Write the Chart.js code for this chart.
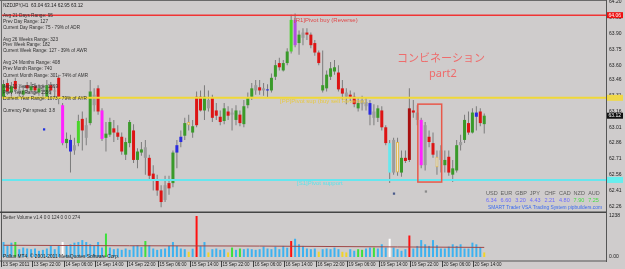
<!DOCTYPE html>
<html>
<head>
<meta charset="utf-8">
<script src="https://cdn.jsdelivr.net/npm/chart.js@4.4.1/dist/chart.umd.min.js"></script>
<style>
body{margin:0;background:#cfcccc;width:625px;height:269px;overflow:hidden;position:relative}
canvas{position:absolute;left:0}
#price{top:0}
#volume{top:213px}
</style>
</head>
<body>
<canvas id="price" width="625" height="213"></canvas>
<canvas id="volume" width="625" height="56"></canvas>
<script>
// NZDJPY H1 candles
var opens=[63.30,63.43,63.34,63.45,63.37,63.32,63.41,63.36,63.40,63.34,
 63.38,63.30,63.41,63.36,63.48,63.22,62.86,62.89,62.84,62.86,
 63.09,63.03,63.05,63.32,63.38,63.17,62.91,62.94,63.00,62.96,
 62.92,62.75,62.86,62.98,62.70,62.77,62.82,62.72,62.57,62.51,
 62.41,62.32,62.48,62.48,62.84,62.87,62.93,63.03,62.96,63.03,
 63.30,63.17,63.27,63.29,63.17,63.11,63.07,63.16,63.13,63.08,
 63.13,63.04,63.22,63.30,63.36,63.39,63.36,63.36,63.36,63.49,
 63.62,63.55,63.62,63.73,64.03,63.81,63.86,63.91,63.89,63.81,
 63.72,63.36,63.38,63.49,63.54,63.53,63.38,63.34,63.32,63.30,
 63.19,63.23,63.25,63.24,63.16,63.10,63.17,63.01,62.86,62.58,
 62.87,62.58,62.72,62.70,63.17,63.15,63.08,62.65,62.92,62.86,
 62.63,62.70,62.65,62.73,62.56,62.60,62.84,62.89,63.05,62.96,
 63.11,63.16,63.04]
var highs=[63.46,63.47,63.44,63.48,63.40,63.41,63.44,63.44,63.43,63.42,
 63.42,63.46,63.44,63.40,63.51,63.24,62.96,62.94,62.91,63.13,
 63.16,63.10,63.46,63.38,63.41,63.19,63.06,63.10,63.08,63.03,
 62.96,62.91,63.08,63.04,62.81,62.87,62.89,62.75,62.65,62.56,
 62.46,62.55,62.55,62.79,62.89,62.98,63.10,63.13,63.08,63.35,
 63.36,63.41,63.36,63.32,63.24,63.17,63.24,63.21,63.19,63.22,
 63.17,63.27,63.34,63.43,63.46,63.46,63.43,63.42,63.52,63.65,
 63.67,63.65,63.76,64.08,64.09,63.93,63.95,63.95,63.91,63.84,
 63.74,63.74,63.55,63.63,63.65,63.60,63.46,63.38,63.36,63.34,
 63.29,63.31,63.29,63.27,63.23,63.22,63.21,63.03,62.89,62.91,
 62.91,62.79,62.79,63.38,63.27,63.22,63.10,63.06,62.98,62.96,
 62.79,62.84,62.79,62.79,62.70,62.89,62.94,63.13,63.16,63.19,
 63.21,63.19,63.14]
var lows=[63.27,63.32,63.30,63.35,63.29,63.28,63.33,63.34,63.32,63.31,
 63.30,63.28,63.32,63.28,63.23,62.84,62.81,62.58,62.75,62.83,
 62.79,62.84,63.03,63.16,63.13,62.88,62.78,62.92,62.87,62.89,
 62.75,62.70,62.82,62.67,62.62,62.74,62.56,62.51,62.41,62.36,
 62.25,62.30,62.37,62.44,62.62,62.82,62.89,62.98,62.91,63.01,
 63.16,63.08,63.16,63.06,63.08,63.03,63.04,63.08,62.98,63.03,
 63.02,63.01,63.19,63.27,63.32,63.32,63.31,63.29,63.34,63.46,
 63.55,63.54,63.60,63.71,63.77,63.70,63.79,63.84,63.76,63.69,
 63.60,63.34,63.35,63.46,63.51,63.35,63.27,63.23,63.26,63.20,
 63.16,63.17,63.17,63.03,63.03,63.06,62.98,62.84,62.48,62.56,
 62.55,62.54,62.67,62.68,63.10,63.03,62.62,62.60,62.82,62.72,
 62.56,62.58,62.58,62.55,62.49,62.58,62.79,62.86,62.94,62.95,
 62.98,63.02,62.95]
var closes=[63.42,63.35,63.40,63.37,63.34,63.36,63.38,63.40,63.36,63.38,
 63.35,63.41,63.36,63.35,63.30,62.86,62.90,62.78,62.79,63.07,
 62.98,62.91,63.35,63.22,63.16,62.90,62.95,63.06,62.96,62.92,
 62.78,62.87,63.06,62.70,62.78,62.80,62.72,62.55,62.51,62.41,
 62.30,62.46,62.43,62.77,62.77,62.92,63.05,63.06,63.02,63.30,
 63.17,63.30,63.19,63.10,63.12,63.06,63.19,63.12,63.15,63.17,
 63.05,63.21,63.29,63.38,63.41,63.36,63.38,63.37,63.48,63.60,
 63.58,63.62,63.73,64.03,63.79,63.89,63.91,63.89,63.79,63.72,
 63.62,63.41,63.51,63.57,63.58,63.37,63.33,63.30,63.30,63.23,
 63.24,63.27,63.21,63.13,63.10,63.19,63.01,62.86,62.58,62.89,
 62.58,62.72,62.69,63.19,63.15,63.08,62.65,63.03,62.87,62.75,
 62.73,62.79,62.70,62.58,62.62,62.84,62.87,63.08,62.96,63.15,
 63.15,63.05,63.12]
// candle paint: g bull, r bear/climax, k plain, m/b/c/y/p/l/d indicator colours
var paint=('grgrkgrgrg'+'kgrkrmgbkl'+'rkgkrmggrr'+'rggrggkrrr'+'rkrgbbgygr'+
 'rgkrrrgrkg'+'rgggkrkbgg'+'rgglpgkrrr'+'rggggrrkrr'+'gkkbkgrrck'+
 'ygrdrkmkrr'+'ykgrggkgrg'+'brg').split('')

var volumes=[452,334,433,452,236,285,256,236,256,187,
 216,256,334,236,334,452,334,384,433,452,
 511,452,384,334,452,285,708,285,236,256,
 216,256,216,334,354,300,482,354,256,216,
 236,256,334,452,334,256,236,157,250,1238,
 334,452,138,236,256,216,236,138,285,216,
 256,236,256,236,216,236,315,256,236,315,
 236,334,280,482,551,384,334,256,236,256,
 160,236,256,236,285,236,157,138,236,187,
 236,216,256,285,285,256,384,285,551,285,
 236,187,236,649,256,334,511,384,334,511,
 354,256,256,315,384,334,384,256,256,433,
 384,300,138]
var volKind=('nnngnnnnnn'+'nnnnnwnnnn'+'nnnnnngnnn'+'nnnnnngnnn'+'nnnnnnnynr'+
 'nnynnnnygn'+'gnnnnnnnnn'+'nnnrnnnnnn'+'ynnnnnyynn'+'ggnngnnnwn'+
 'nnnrnnnnnn'+'nnnnnnnnnn'+'nny').split('')
var volAvgIdx=[0,32,65,100,122]
var volAvg=[354,340,330,304,290]

var priceTicks=[64.20,64.05,63.90,63.75,63.60,63.46,63.31,63.16,63.01,62.86,62.71,62.56,62.41,62.26]
var volTicks=[0,1238]
var volTickLabels=['0.00','1238']
var timeIdx=[0,8,16,24,32,40,48,56,64,72,80,88,96,104,112,120]
var timeLabels=['13 Sep 2011','13 Sep 22:00','14 Sep 06:00','14 Sep 14:00','14 Sep 22:00','15 Sep 06:00',
 '15 Sep 14:00','15 Sep 22:00','16 Sep 06:00','16 Sep 14:00','16 Sep 22:00','19 Sep 06:00',
 '19 Sep 14:00','19 Sep 22:00','20 Sep 06:00','20 Sep 14:00']

var levelR1=64.075, levelPP=63.29, levelS1=62.51, lastPrice=63.12
var dotIdx=[10.3,99.1,107.2]
var dotPrice=[62.99,62.38,62.40]
var boxIdx=[105.15,111.2]
var boxPrice=[63.23,62.49]

var xMin=-0.635, xMax=152.9
var bg='#cfcccc'
var bodyColors={g:'#3a9a2a',l:'#4ad42a',r:'#dd1414',d:'#a81010',m:'#ff22ff',b:'#2a2ae0',c:'#66e8ee',k:'#9c9c9c',p:'#b050e0',y:'#f4eed6'}
var volColors={n:'#3cb2f0',g:'#3ce03c',r:'#ff1010',y:'#f0d428',w:'#ffffff'}
var dotColors=['#2030e0','#4a5a8a','#8a8a8a']

Chart.defaults.font.family='"Liberation Sans", Arial, sans-serif'

function txt(ctx,s,x,y,color,w,size,family){
    ctx.font=(size||6)+'px '+(family||'"Liberation Sans"')
    ctx.fillStyle=color
    ctx.textBaseline='middle'
    ctx.textAlign='left'
    if(w) ctx.fillText(s,x,y,w)
    else ctx.fillText(s,x,y)
}

function flat(v){
    return [{x:xMin,y:v},{x:xMax,y:v}]
}

// keep the plot area exactly where the padding puts it
function noPad(s){
    s.paddingTop=0; s.paddingBottom=0; s.paddingLeft=0; s.paddingRight=0
}

var bodies=opens.map(function(o,i){return {x:i,y:[o,closes[i]]}})
var wicks=lows.map(function(l,i){return {x:i,y:[l,highs[i]]}})
var dots=dotIdx.map(function(v,i){return {x:v,y:dotPrice[i]}})

var paintBg={
    id:'paintBg',
    beforeDraw:function(chart){
        var ctx=chart.ctx
        ctx.save()
        ctx.fillStyle=bg
        ctx.fillRect(0,0,chart.width,chart.height)
        ctx.restore()
    }
}

var priceOverlay={
    id:'priceOverlay',
    afterDraw:function(chart){
        var ctx=chart.ctx, xs=chart.scales.x, ys=chart.scales.y
        ctx.save()

        // combination box
        var bx1=xs.getPixelForValue(boxIdx[0]), bx2=xs.getPixelForValue(boxIdx[1])
        var by1=ys.getPixelForValue(boxPrice[0]), by2=ys.getPixelForValue(boxPrice[1])
        ctx.strokeStyle='#e8584a'
        ctx.lineWidth=1.5
        ctx.strokeRect(bx1,by1,bx2-bx1,by2-by1)

        txt(ctx,'NZDJPY,H1  63.04 63.14 62.95 63.12',3,5,'#202020',80)
        var info=[
            ['Avg 21 Days Range: 95',15.7,50],
            ['Prev Day Range: 127',21.2,45],
            ['Current Day Range: 75 - 79% of ADR',27.6,77],
            ['Avg 26 Weeks Range: 323',39,55],
            ['Prev Week Range: 182',44.5,47],
            ['Current Week Range: 127 - 39% of AWR',50.8,84],
            ['Avg 24 Months Range: 408',62.3,57],
            ['Prev Month Range: 740',68.3,49],
            ['Current Month Range: 301 - 74% of AMR',75,85],
            ['Avg 10 Years Range: 1369',86,55],
            ['Prev Year Range: 1556',92,48],
            ['Current Year Range: 1073 - 79% of AYR',98.3,84],
            ['Currency Pair spread: 3.8',110,52]
        ]
        info.forEach(function(t){txt(ctx,t[0],3,t[1],'#303030',t[2],5.5)})

        txt(ctx,'[R1]Pivot buy (Reverse)',294,20.5,'#e04848',67)
        txt(ctx,'[PP]Pivot sup (buy sell Reverse)',280,101.5,'#e8c840',95)
        txt(ctx,'[S1]Pivot support',297,183.5,'#5fe0e8',60)

        txt(ctx,'コンビネーション',397,58,'#ee6c6c',null,11,'"Noto Sans CJK JP"')
        txt(ctx,'part2',429,74,'#ee6c6c',null,11,'"Noto Sans"')

        // currency strength table
        var cur=['USD','EUR','GBP','JPY','CHF','CAD','NZD','AUD']
        var str=['6.34','6.60','3.20','4.43','2.21','4.80','7.90','7.25']
        cur.forEach(function(c,k){
            txt(ctx,c,486+k*14.6,193,'#606060',12,5.5)
            txt(ctx,str[k],486+k*14.6,200,k<6?'#6a6aff':'#44dd44',12,5.5)
        })
        txt(ctx,'SMART Trader VSA Trading System pipbuilders.com',488,207,'#3a6af0',114,5.5)

        // tags on the price axis
        var tags=[[levelR1,'#ee1111','64.06','#ffffff'],[levelPP,'#f0d848','',''],[lastPrice,'#101010','63.12','#ffffff'],[levelS1,'#66eeee','','']]
        tags.forEach(function(t){
            var py=ys.getPixelForValue(t[0])
            ctx.fillStyle=t[1]
            ctx.fillRect(607,py-3,16,6)
            if(t[2]) txt(ctx,t[2],608.5,py,t[3],14,5)
        })

        // frame
        ctx.fillStyle='#6a6a6a'
        ctx.fillRect(0,0,607,1)
        ctx.fillRect(1,0,1,213)
        ctx.fillStyle='#454545'
        ctx.fillRect(0,211.5,607,1.5)
        ctx.fillStyle='#555555'
        ctx.fillRect(606,0,1,213)
        ctx.restore()
    }
}

var volumeOverlay={
    id:'volumeOverlay',
    afterDraw:function(chart){
        var ctx=chart.ctx, xs=chart.scales.x
        ctx.save()
        txt(ctx,'Better Volume v1.4 0 0 124 0 0 0 274',3,4,'#303030',77,5.5)
        txt(ctx,'Pollux MT4, \u00a9 2001-2011 MetaQuotes Software Corp.',3,43,'#202020',116,5.5)
        ctx.fillStyle='#555555'
        ctx.fillRect(606,0,1,49)
        ctx.fillRect(1,0,1,49)
        ctx.fillRect(0,47.5,607,1)
        // time axis: tick mark then label, MT4 style
        timeIdx.forEach(function(v,k){
            var px=Math.round(xs.getPixelForValue(v))-3
            ctx.fillStyle='#404040'
            ctx.fillRect(px,48,1,6)
            txt(ctx,timeLabels[k],px+1.5,52,'#202020',27,5)
        })
        ctx.restore()
    }
}

new Chart(document.getElementById('price'),{
    type:'bar',
    data:{
        datasets:[
            {type:'line',data:dots,showLine:false,pointStyle:'rect',pointRadius:1.6,borderWidth:0,
             pointBackgroundColor:function(c){return dotColors[c.dataIndex]},order:-2},
            {type:'line',data:flat(levelR1),borderColor:'#f03434',borderWidth:1.5,pointRadius:0,order:-1},
            {type:'line',data:flat(levelPP),borderColor:'#f0d838',borderWidth:2,pointRadius:0,order:-1},
            {type:'line',data:flat(levelS1),borderColor:'#66e6ee',borderWidth:2,pointRadius:0,order:-1},
            {data:bodies,barThickness:3,grouped:false,minBarLength:1,inflateAmount:0,borderSkipped:false,order:1,
             backgroundColor:function(c){return bodyColors[paint[c.dataIndex]]},
             borderColor:function(c){return paint[c.dataIndex]=='y'?'#e0b850':'rgba(0,0,0,0)'},
             borderWidth:function(c){return paint[c.dataIndex]=='y'?1:0}},
            {data:wicks,barThickness:1,grouped:false,inflateAmount:0,order:2,backgroundColor:'#7c7c7c'}
        ]
    },
    options:{
        responsive:false,animation:false,devicePixelRatio:1,
        layout:{padding:{left:1,top:2,right:0,bottom:2},autoPadding:false},
        plugins:{legend:{display:false},tooltip:{enabled:false}},
        scales:{
            x:{type:'linear',display:false,offset:false,min:xMin,max:xMax,bounds:'data',afterFit:noPad},
            y:{position:'right',min:62.215,max:64.20,bounds:'data',
               afterBuildTicks:function(s){s.ticks=priceTicks.map(function(v){return {value:v}})},
               afterFit:function(s){s.width=19; noPad(s)},
               grid:{display:false,drawTicks:false},border:{display:false},
               ticks:{autoSkip:false,padding:3,color:'#202020',font:{size:5},
                      callback:function(v){return v.toFixed(2)}}}
        }
    },
    plugins:[paintBg,priceOverlay]
})

new Chart(document.getElementById('volume'),{
    type:'bar',
    data:{
        datasets:[
            {type:'line',data:volAvgIdx.map(function(v,i){return {x:v,y:volAvg[i]}}),
             borderColor:'#a04848',borderWidth:1,pointRadius:0,order:0},
            {data:volumes.map(function(v,i){return {x:i,y:v}}),barThickness:2,grouped:false,inflateAmount:0,order:1,
             backgroundColor:function(c){return volColors[volKind[c.dataIndex]]}}
        ]
    },
    options:{
        responsive:false,animation:false,devicePixelRatio:1,
        layout:{padding:{left:1,top:2,right:0,bottom:0},autoPadding:false},
        plugins:{legend:{display:false},tooltip:{enabled:false}},
        scales:{
            x:{type:'linear',offset:false,min:xMin,max:xMax,bounds:'data',
               afterBuildTicks:function(s){s.ticks=timeIdx.map(function(v){return {value:v}})},
               afterFit:function(s){s.height=12; noPad(s)},
               grid:{display:false,drawTicks:false},border:{display:false},
               ticks:{display:false}},
            y:{position:'right',min:0,max:1268,bounds:'data',
               afterBuildTicks:function(s){s.ticks=volTicks.map(function(v){return {value:v}})},
               afterFit:function(s){s.width=19; noPad(s)},
               grid:{display:false,drawTicks:false},border:{display:false},
               ticks:{autoSkip:false,padding:3,color:'#202020',font:{size:5},
                      callback:function(v,i){return volTickLabels[i]}}}
        }
    },
    plugins:[paintBg,volumeOverlay]
})
</script>
</body>
</html>
